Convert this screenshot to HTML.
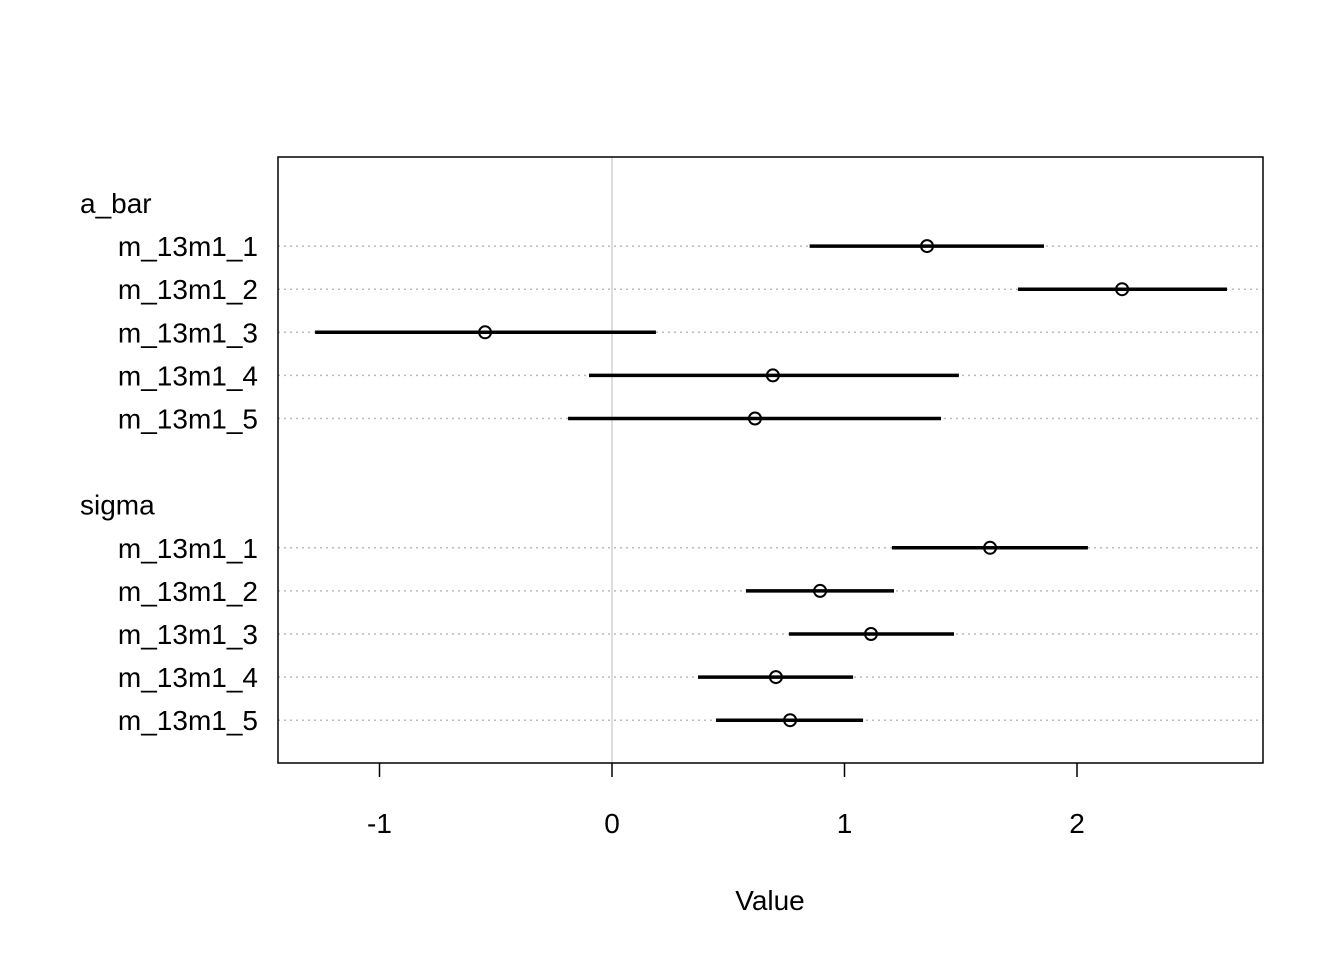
<!DOCTYPE html>
<html><head><meta charset="utf-8"><style>body{margin:0;background:#fff}svg{display:block;font-family:"Liberation Sans",Arial,sans-serif}</style></head>
<body>
<svg id="chart" width="1344" height="960"></svg>
<script>
const groups = ["a_bar","sigma"];
const models = ["m_13m1_1","m_13m1_2","m_13m1_3","m_13m1_4","m_13m1_5"];
const lows = [[0.85,1.746,-1.277,-0.099,-0.189],[1.204,0.576,0.761,0.370,0.447]];
const means = [[1.355,2.194,-0.546,0.692,0.615],[1.626,0.895,1.114,0.705,0.766]];
const highs = [[1.858,2.645,0.189,1.492,1.415],[2.047,1.213,1.471,1.037,1.080]];
const xTicks = [-1,0,1,2];
const NS="http://www.w3.org/2000/svg";
const svg=document.getElementById('chart');
const L=278,T=157,R=1263,B=763;
function xs(v){return 612+v*232.5;}
function ys(i){return 203+i*43.1;}
function mk(tag,attrs,txt){const e=document.createElementNS(NS,tag);for(const k in attrs)e.setAttribute(k,attrs[k]);if(txt!==undefined)e.textContent=txt;svg.appendChild(e);return e;}
let z=mk('line',{x1:xs(0),x2:xs(0),y1:T,y2:B,stroke:'#d3d3d3','stroke-width':1.5});

groups.forEach((g,gi)=>{
  const base=gi*7;
  let h=mk('text',{x:80,y:ys(base)+10,'font-size':28,fill:'#000'},g);
  
  models.forEach((m,mi)=>{
    const y=ys(base+1+mi);
    let gl=mk('line',{x1:L,x2:R,y1:y,y2:y,stroke:'#bbb','stroke-width':1.5,'stroke-dasharray':'2,4'});
    
    let t=mk('text',{x:258,y:y+10,'font-size':28,'text-anchor':'end',fill:'#000'},m);
    
    let ln=mk('line',{x1:xs(lows[gi][mi]),x2:xs(highs[gi][mi]),y1:y,y2:y,stroke:'#000','stroke-width':3.5});
    
    let c=mk('circle',{cx:xs(means[gi][mi]),cy:y,r:6,fill:'none',stroke:'#000','stroke-width':2});
    
  });
});
let box=mk('rect',{x:L,y:T,width:R-L,height:B-T,fill:'none',stroke:'#000','stroke-width':1.5});

xTicks.forEach(v=>{
  let tk=mk('line',{x1:xs(v),x2:xs(v),y1:B,y2:B+14,stroke:'#000','stroke-width':1.5});
  
  let tl=mk('text',{x:xs(v),y:833,'font-size':28,'text-anchor':'middle'},String(v));
  
});
let xt=mk('text',{x:770,y:910,'font-size':28,'text-anchor':'middle'},'Value');

</script>
</body></html>
